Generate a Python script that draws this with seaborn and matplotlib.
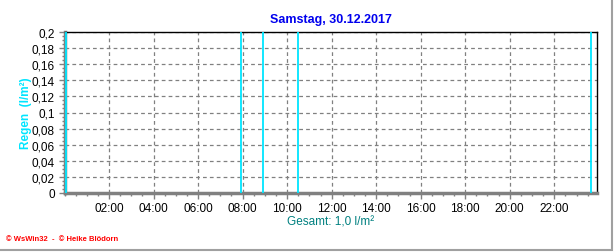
import matplotlib
matplotlib.use("Agg")
import matplotlib.pyplot as plt
import seaborn as sns
import numpy as np
from matplotlib.patches import Rectangle

# data
rain_times_h = [0.05, 7.93, 8.92, 10.5, 23.65]   # hours of day
rain_values = [0.2, 0.2, 0.2, 0.2, 0.2]          # l/m²
x_tick_hours = [2, 4, 6, 8, 10, 12, 14, 16, 18, 20, 22]
x_tick_labels = ["02:00", "04:00", "06:00", "08:00", "10:00", "12:00",
                 "14:00", "16:00", "18:00", "20:00", "22:00"]
y_ticks = [0, 0.02, 0.04, 0.06, 0.08, 0.1, 0.12, 0.14, 0.16, 0.18, 0.2]
y_tick_labels = ["0", "0,02", "0,04", "0,06", "0,08", "0,1", "0,12",
                 "0,14", "0,16", "0,18", "0,2"]
title = "Samstag, 30.12.2017"
ylabel = "Regen  (l/m²)"
xlabel = "Gesamt: 1,0 l/m²"
footer = "© WsWin32  -  © Heike Blödorn"

sns.set_theme(style="white")
plt.rcParams['font.family'] = ['Liberation Sans', 'DejaVu Sans']

fig = plt.figure(figsize=(6.16, 2.53), dpi=100)
ax = fig.add_axes([64.5 / 616, 1 - 194 / 253, (597 - 64.5) / 616, (194 - 33) / 253])

ax.set_xlim(0, 23.92)
ax.set_ylim(0, 0.2)

# grid
ax.set_xticks(x_tick_hours)
ax.set_yticks(y_ticks)
ax.grid(True, which="major", color="#808080", linestyle=(0, (3, 2.5)), linewidth=0.9)
ax.set_axisbelow(True)

# rain bars
ax.vlines(rain_times_h, 0, rain_values, colors="#00e5ff", linewidth=1.3, zorder=3)

ax.set_xticklabels(x_tick_labels, fontsize=8.5, color="black")
ax.set_yticklabels(y_tick_labels, fontsize=8.5, color="black")
ax.set_xticks(np.arange(0, 24, 0.5), minor=True)
ax.set_yticks(np.arange(0, 0.2001, 0.005), minor=True)
ax.tick_params(axis="both", which="major", length=4, width=1, color="#808080",
               direction="out", pad=3, bottom=True, left=True)
ax.tick_params(axis="both", which="minor", length=2, width=1, color="#808080",
               direction="out", bottom=True, left=True)
ax.tick_params(axis="x", pad=2.5)

for side in ["top", "right"]:
    ax.spines[side].set_color("black")
    ax.spines[side].set_linewidth(1.0)
for side in ["bottom", "left"]:
    ax.spines[side].set_color("#808080")
    ax.spines[side].set_linewidth(2.5)

ax.set_title(title, color="#0000ee", fontsize=9, fontweight="bold", pad=7.5)
ax.set_ylabel(ylabel, color="#00e5ff", fontsize=8.5, fontweight="bold", labelpad=0)
ax.set_xlabel(xlabel, color="#008080", fontsize=8.5, labelpad=1)

fig.text(6 / 616, 1 - 240 / 253, footer, color="#ff0000", fontsize=5.5,
         fontweight="bold", va="center", ha="left")

# outer frame
fig.patches.append(Rectangle((-0.01, 1 - 251 / 253), (612 / 616) + 0.01, 1.0,
                             transform=fig.transFigure, fill=False,
                             edgecolor="#a0a0a0", linewidth=1.5))

fig.savefig("out.png", dpi=100)
